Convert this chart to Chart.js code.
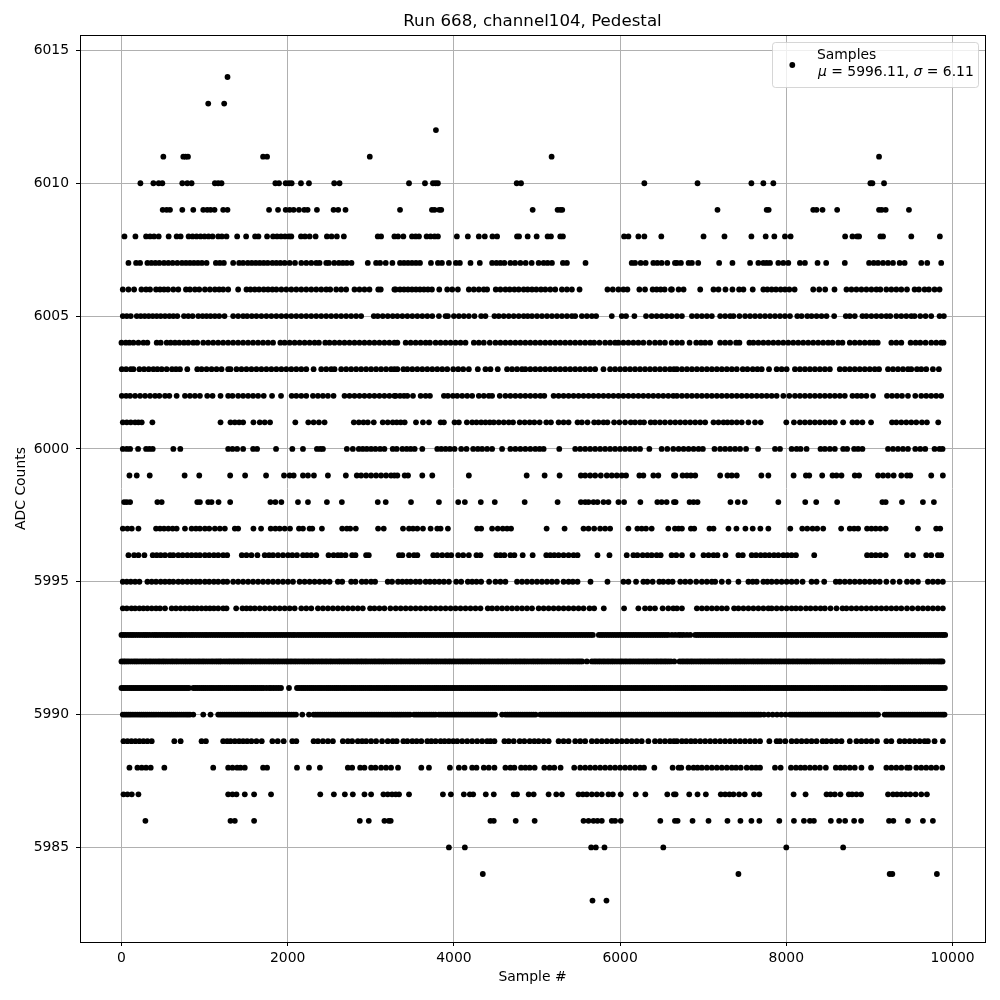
<!DOCTYPE html>
<html>
<head>
<meta charset="utf-8">
<title>Run 668, channel104, Pedestal</title>
<script src="https://cdn.jsdelivr.net/npm/chart.js@4/dist/chart.umd.min.js"></script>
<style>
  html, body { margin: 0; padding: 0; background: #fff; }
  canvas { display: block; }
</style>
</head>
<body>
<canvas id="pedestal" width="1000" height="1000"></canvas>
<script>
const chartTitle = "Run 668, channel104, Pedestal"
const xLabel = "Sample #"
const yLabel = "ADC Counts"
const seriesName = "Samples"
const meanText = " = 5996.11, "
const sigmaText = " = 6.11"
const xTicks = [0, 2000, 4000, 6000, 8000, 10000]
const yTicks = [5985, 5990, 5995, 6000, 6005, 6010, 6015]

// sample numbers seen at each ADC level
const adc6014 = [1276]
const adc6013 = [1044, 1236]
const adc6012 = [3784]
const adc6011 = [504, 744, 772, 800, 1704, 1752, 2988, 5176, 9116]
const adc6010 = [228, 384, 448, 492, 732, 792, 844, 1124, 1164, 1204, 1852, 1896, 1976, 2016, 2048, 2160, 2256, 2560, 2624, 3460, 3652, 3748, 3780, 3808, 4756, 4808, 6292, 6932, 7580, 7724, 7844, 9012, 9036, 9176]
const adc6009 = [496, 544, 584, 732, 864, 984, 1032, 1072, 1120, 1224, 1276, 1776, 1884, 1976, 2024, 2072, 2136, 2200, 2240, 2352, 2552, 2608, 2696, 3352, 3736, 3768, 3824, 3848, 4948, 5248, 5280, 5304, 7172, 7764, 7788, 8324, 8364, 8436, 8612, 9116, 9148, 9196, 9476]
const adc6008 = [36, 168, 296, 344, 392, 448, 568, 664, 712, 808, 856, 904, 952, 1000, 1048, 1096, 1164, 1208, 1264, 1392, 1500, 1608, 1648, 1752, 1824, 1872, 1920, 1968, 2016, 2044, 2160, 2208, 2264, 2336, 2472, 2528, 2592, 2676, 3084, 3124, 3284, 3328, 3392, 3496, 3540, 3580, 3672, 3720, 3768, 3808, 4036, 4168, 4300, 4372, 4464, 4520, 4760, 4784, 4888, 4996, 5128, 5168, 5280, 5312, 6048, 6100, 6220, 6292, 6496, 7004, 7256, 7580, 7752, 7856, 7984, 8052, 8708, 8796, 8852, 8876, 9132, 9164, 9504, 9848]
const adc6007 = [84, 176, 224, 312, 360, 408, 456, 512, 564, 616, 672, 728, 776, 824, 872, 920, 968, 1024, 1136, 1184, 1232, 1344, 1416, 1464, 1520, 1568, 1616, 1664, 1712, 1760, 1816, 1864, 1912, 1964, 2024, 2088, 2164, 2224, 2284, 2344, 2384, 2464, 2496, 2560, 2616, 2664, 2712, 2768, 2964, 3064, 3112, 3180, 3260, 3352, 3400, 3448, 3496, 3544, 3592, 3724, 3808, 3856, 3940, 4024, 4072, 4200, 4312, 4460, 4512, 4560, 4608, 4680, 4736, 4800, 4864, 4936, 5020, 5080, 5128, 5180, 5312, 5360, 5584, 6140, 6180, 6248, 6308, 6400, 6448, 6500, 6568, 6660, 6684, 6732, 6824, 6864, 6940, 7192, 7352, 7564, 7664, 7724, 7764, 7804, 7904, 7964, 8024, 8164, 8224, 8376, 8480, 8704, 8996, 9052, 9104, 9164, 9224, 9284, 9364, 9424, 9624, 9696, 9864]
const adc6006 = [16, 84, 152, 240, 296, 344, 416, 464, 512, 560, 624, 684, 776, 824, 884, 936, 1004, 1064, 1124, 1176, 1224, 1284, 1404, 1504, 1552, 1604, 1656, 1712, 1764, 1816, 1864, 1924, 1984, 2044, 2104, 2164, 2224, 2284, 2344, 2404, 2464, 2512, 2584, 2644, 2704, 2804, 2864, 2924, 2984, 3090, 3120, 3284, 3300, 3352, 3400, 3448, 3496, 3544, 3592, 3640, 3688, 3736, 3824, 3920, 3980, 4048, 4180, 4240, 4300, 4360, 4400, 4504, 4560, 4620, 4672, 4728, 4780, 4840, 4888, 4940, 4992, 5048, 5100, 5160, 5220, 5300, 5360, 5420, 5512, 5848, 5912, 5980, 6040, 6088, 6232, 6300, 6392, 6440, 6488, 6536, 6612, 6624, 6704, 6764, 6964, 7124, 7184, 7268, 7352, 7432, 7484, 7596, 7724, 7772, 7824, 7876, 7932, 7984, 8036, 8100, 8324, 8396, 8468, 8580, 8724, 8784, 8844, 8904, 8964, 9024, 9084, 9132, 9204, 9264, 9324, 9384, 9452, 9544, 9596, 9664, 9716, 9784, 9844]
const adc6005 = [16, 64, 112, 184, 232, 280, 328, 376, 424, 472, 524, 576, 624, 672, 752, 804, 856, 924, 976, 1024, 1072, 1124, 1176, 1240, 1344, 1404, 1464, 1512, 1568, 1624, 1684, 1744, 1804, 1864, 1924, 1984, 2044, 2104, 2164, 2224, 2284, 2344, 2404, 2464, 2524, 2584, 2644, 2704, 2764, 2824, 2884, 3036, 3084, 3144, 3204, 3264, 3320, 3380, 3440, 3500, 3560, 3620, 3680, 3740, 3820, 3900, 3928, 4000, 4060, 4120, 4180, 4248, 4328, 4380, 4488, 4540, 4600, 4660, 4720, 4780, 4840, 4888, 4940, 5000, 5060, 5120, 5180, 5240, 5300, 5360, 5420, 5460, 5540, 5600, 5660, 5712, 5900, 6020, 6072, 6172, 6312, 6380, 6440, 6500, 6560, 6620, 6684, 6744, 6864, 6924, 6984, 7044, 7104, 7204, 7264, 7324, 7364, 7436, 7504, 7564, 7624, 7684, 7744, 7804, 7864, 7924, 7984, 8044, 8132, 8184, 8252, 8304, 8364, 8424, 8484, 8576, 8716, 8764, 8824, 8916, 8964, 9024, 9084, 9144, 9204, 9252, 9324, 9384, 9444, 9504, 9544, 9612, 9676, 9744, 9844, 9896]
const adc6004 = [0, 52, 96, 144, 204, 264, 312, 424, 472, 544, 592, 644, 696, 752, 804, 864, 912, 984, 1044, 1104, 1164, 1224, 1284, 1344, 1404, 1464, 1524, 1584, 1644, 1704, 1764, 1824, 1912, 1964, 2024, 2084, 2144, 2204, 2264, 2324, 2376, 2452, 2504, 2564, 2624, 2684, 2744, 2804, 2864, 2924, 2984, 3044, 3104, 3164, 3224, 3284, 3320, 3420, 3480, 3540, 3600, 3660, 3712, 3780, 3840, 3900, 3960, 4020, 4080, 4140, 4240, 4300, 4360, 4432, 4500, 4560, 4620, 4680, 4740, 4800, 4860, 4920, 4980, 5040, 5100, 5160, 5220, 5280, 5340, 5400, 5460, 5520, 5580, 5640, 5688, 5752, 5820, 5880, 5940, 5980, 6040, 6100, 6160, 6220, 6280, 6352, 6420, 6480, 6540, 6620, 6684, 6744, 6836, 6916, 6972, 7024, 7084, 7204, 7264, 7324, 7396, 7436, 7556, 7604, 7664, 7724, 7784, 7844, 7904, 7964, 8024, 8084, 8144, 8204, 8264, 8324, 8384, 8444, 8504, 8556, 8624, 8676, 8764, 8824, 8884, 8944, 9004, 9052, 9100, 9264, 9324, 9384, 9496, 9556, 9612, 9676, 9744, 9804, 9864, 9892]
const adc6003 = [4, 56, 112, 144, 216, 272, 328, 384, 432, 484, 544, 608, 656, 704, 792, 912, 964, 1024, 1084, 1144, 1204, 1284, 1312, 1384, 1444, 1504, 1564, 1624, 1684, 1744, 1804, 1864, 1924, 1984, 2044, 2104, 2164, 2224, 2312, 2404, 2464, 2524, 2564, 2644, 2704, 2764, 2824, 2884, 2944, 3004, 3064, 3124, 3184, 3244, 3284, 3320, 3392, 3440, 3500, 3560, 3620, 3680, 3740, 3800, 3860, 3920, 3992, 4052, 4112, 4180, 4288, 4380, 4440, 4528, 4640, 4700, 4760, 4820, 4860, 4920, 4980, 5040, 5100, 5160, 5220, 5280, 5340, 5400, 5460, 5520, 5580, 5640, 5700, 5800, 5880, 5940, 6000, 6060, 6120, 6180, 6240, 6300, 6360, 6420, 6480, 6540, 6600, 6648, 6684, 6744, 6804, 6864, 6924, 6984, 7044, 7104, 7164, 7224, 7284, 7344, 7404, 7476, 7532, 7596, 7652, 7704, 7792, 7884, 7944, 8004, 8104, 8164, 8224, 8284, 8344, 8404, 8464, 8524, 8644, 8704, 8764, 8824, 8884, 8944, 9004, 9064, 9116, 9224, 9284, 9344, 9404, 9464, 9504, 9572, 9624, 9684, 9764, 9836]
const adc6002 = [4, 56, 104, 164, 224, 284, 344, 404, 456, 524, 576, 664, 764, 824, 884, 944, 1032, 1096, 1192, 1284, 1336, 1404, 1464, 1524, 1584, 1644, 1712, 1812, 1920, 2048, 2104, 2164, 2224, 2304, 2364, 2424, 2484, 2552, 2684, 2744, 2804, 2864, 2924, 2984, 3044, 3104, 3164, 3224, 3284, 3300, 3352, 3400, 3440, 3508, 3600, 3660, 3712, 3880, 3928, 3988, 4040, 4100, 4160, 4220, 4300, 4360, 4420, 4460, 4552, 4620, 4680, 4740, 4800, 4860, 4920, 4980, 5040, 5088, 5200, 5260, 5320, 5380, 5440, 5500, 5560, 5620, 5680, 5740, 5800, 5860, 5920, 5980, 6040, 6100, 6160, 6220, 6280, 6340, 6400, 6460, 6520, 6580, 6640, 6684, 6744, 6804, 6864, 6924, 6984, 7044, 7104, 7164, 7224, 7284, 7344, 7404, 7464, 7524, 7584, 7644, 7704, 7764, 7824, 7884, 7964, 8036, 8104, 8164, 8224, 8284, 8344, 8404, 8464, 8524, 8584, 8644, 8704, 8796, 8852, 8904, 8964, 9044, 9212, 9272, 9332, 9392, 9464, 9552, 9624, 9684, 9744, 9804, 9864]
const adc6001 = [16, 64, 112, 164, 204, 244, 372, 1192, 1312, 1364, 1416, 1464, 1588, 1664, 1724, 1788, 2092, 2248, 2312, 2376, 2444, 2796, 2856, 2912, 2964, 3036, 3144, 3204, 3264, 3312, 3360, 3408, 3544, 3628, 3700, 3840, 3880, 4008, 4060, 4156, 4220, 4272, 4328, 4380, 4432, 4480, 4540, 4600, 4660, 4712, 4792, 4852, 4912, 4968, 5032, 5112, 5168, 5260, 5320, 5380, 5488, 5540, 5608, 5688, 5740, 5800, 5848, 5928, 5992, 6060, 6128, 6180, 6240, 6288, 6368, 6420, 6480, 6540, 6604, 6664, 6724, 6784, 6844, 6904, 6964, 7024, 7124, 7184, 7244, 7292, 7344, 7404, 7464, 7544, 7624, 7692, 8000, 8092, 8164, 8224, 8284, 8344, 8404, 8464, 8524, 8584, 8684, 8796, 8852, 8916, 9020, 9272, 9324, 9384, 9444, 9504, 9564, 9632, 9692, 9828]
const adc6000 = [16, 64, 104, 200, 296, 336, 376, 624, 708, 1284, 1336, 1392, 1464, 1584, 1632, 1860, 2056, 2184, 2352, 2392, 2424, 2712, 2784, 2856, 2904, 2952, 3004, 3056, 3112, 3164, 3264, 3312, 3380, 3432, 3480, 3528, 3620, 3800, 3848, 3900, 3952, 4008, 4088, 4152, 4232, 4288, 4340, 4400, 4460, 4580, 4680, 4740, 4800, 4860, 4920, 4980, 5032, 5080, 5268, 5460, 5520, 5580, 5640, 5700, 5760, 5820, 5880, 5940, 6000, 6060, 6120, 6180, 6240, 6352, 6500, 6568, 6640, 6704, 6764, 6824, 6884, 6944, 6996, 7136, 7204, 7264, 7324, 7384, 7444, 7516, 7660, 7864, 7924, 8064, 8124, 8172, 8244, 8412, 8464, 8524, 8584, 8684, 8732, 8816, 8864, 8916, 9224, 9284, 9344, 9404, 9464, 9552, 9612, 9672, 9784, 9844, 9880]
const adc5999 = [96, 184, 340, 760, 936, 1308, 1488, 1740, 1956, 2024, 2072, 2184, 2244, 2316, 2484, 2700, 2832, 2884, 2944, 3004, 3064, 3124, 3184, 3244, 3284, 3320, 3408, 3448, 3620, 3740, 4180, 4876, 5092, 5272, 5528, 5580, 5640, 5700, 5768, 5840, 5900, 5960, 6020, 6072, 6232, 6280, 6400, 6460, 6648, 6664, 6752, 6804, 6852, 6904, 7204, 7292, 7344, 7404, 7700, 7784, 8088, 8236, 8276, 8432, 8556, 8604, 8664, 8824, 8876, 9104, 9164, 9224, 9292, 9384, 9452, 9492, 9744, 9884]
const adc5998 = [32, 64, 104, 432, 484, 912, 944, 1044, 1084, 1168, 1308, 1792, 1852, 1924, 2124, 2244, 2472, 2652, 3084, 3180, 3484, 3820, 4052, 4132, 4324, 4492, 4852, 5248, 5528, 5580, 5620, 5680, 5728, 5800, 5860, 5980, 6048, 6244, 6448, 6500, 6560, 6648, 6668, 6836, 6884, 6932, 7328, 7416, 7500, 7904, 8228, 8360, 8612, 9156, 9196, 9392, 9644, 9776]
const adc5997 = [16, 72, 124, 204, 416, 464, 512, 564, 616, 664, 764, 844, 896, 944, 1004, 1056, 1124, 1184, 1244, 1364, 1404, 1588, 1680, 1796, 1852, 1904, 1964, 2028, 2136, 2184, 2264, 2296, 2412, 2656, 2712, 2752, 2820, 3088, 3156, 3388, 3460, 3508, 3560, 3628, 3720, 3800, 3840, 3928, 4280, 4328, 4460, 4528, 4588, 4640, 4688, 5116, 5332, 5560, 5620, 5688, 5760, 5820, 5880, 6100, 6208, 6260, 6312, 6380, 6580, 6660, 6704, 6744, 6852, 6892, 7076, 7124, 7304, 7400, 7508, 7596, 7688, 7784, 8048, 8192, 8252, 8316, 8372, 8444, 8660, 8764, 8816, 8864, 8972, 9024, 9076, 9132, 9196, 9584, 9804, 9852]
const adc5996 = [84, 152, 204, 276, 376, 424, 472, 524, 584, 624, 684, 736, 792, 844, 896, 944, 1004, 1056, 1112, 1164, 1224, 1272, 1448, 1504, 1564, 1636, 1724, 1776, 1824, 1884, 1944, 2004, 2056, 2112, 2184, 2232, 2284, 2344, 2492, 2552, 2604, 2644, 2696, 2776, 2816, 2944, 2976, 3340, 3380, 3460, 3520, 3560, 3752, 3800, 3860, 3920, 3968, 4052, 4112, 4180, 4272, 4320, 4512, 4560, 4608, 4680, 4728, 4828, 4948, 5112, 5160, 5208, 5260, 5320, 5380, 5440, 5488, 5728, 5872, 6080, 6160, 6208, 6272, 6328, 6380, 6440, 6488, 6620, 6676, 6744, 6872, 7004, 7064, 7124, 7172, 7268, 7424, 7476, 7584, 7636, 7692, 7744, 7796, 7852, 7904, 7964, 8012, 8064, 8116, 8336, 8972, 9024, 9076, 9132, 9196, 9452, 9524, 9684, 9744, 9824, 9864]
const adc5995 = [16, 64, 112, 164, 216, 312, 364, 416, 472, 524, 576, 624, 684, 736, 792, 844, 896, 944, 1004, 1056, 1112, 1164, 1224, 1272, 1344, 1404, 1464, 1524, 1584, 1644, 1704, 1764, 1824, 1884, 1944, 2004, 2064, 2144, 2204, 2264, 2324, 2384, 2444, 2504, 2604, 2656, 2764, 2816, 2892, 2944, 3004, 3052, 3204, 3256, 3328, 3380, 3432, 3480, 3540, 3592, 3660, 3712, 3768, 3824, 3880, 3940, 4028, 4088, 4168, 4220, 4272, 4328, 4424, 4500, 4560, 4620, 4760, 4820, 4880, 4940, 5000, 5060, 5120, 5180, 5240, 5320, 5380, 5432, 5488, 5644, 5848, 6040, 6100, 6192, 6280, 6328, 6392, 6472, 6520, 6580, 6632, 6724, 6784, 6844, 6916, 6984, 7044, 7104, 7144, 7224, 7304, 7424, 7544, 7596, 7644, 7724, 7772, 7824, 7884, 7944, 8004, 8064, 8124, 8196, 8304, 8364, 8456, 8596, 8644, 8704, 8764, 8824, 8884, 8944, 9004, 9064, 9124, 9204, 9284, 9364, 9452, 9516, 9584, 9704, 9764, 9824, 9884]
const adc5994 = [16, 64, 120, 164, 216, 264, 312, 364, 416, 464, 524, 604, 656, 712, 764, 816, 864, 912, 964, 1016, 1064, 1112, 1164, 1224, 1264, 1380, 1456, 1504, 1552, 1604, 1664, 1724, 1784, 1844, 1904, 1964, 2024, 2084, 2164, 2224, 2284, 2364, 2424, 2484, 2544, 2604, 2664, 2724, 2784, 2844, 2904, 2992, 3044, 3104, 3164, 3236, 3300, 3360, 3420, 3480, 3540, 3600, 3660, 3720, 3780, 3840, 3900, 3960, 4020, 4080, 4140, 4200, 4260, 4320, 4408, 4460, 4520, 4580, 4640, 4700, 4760, 4820, 4880, 4940, 5020, 5080, 5140, 5200, 5260, 5320, 5380, 5440, 5500, 5560, 5632, 5688, 5804, 6048, 6220, 6300, 6360, 6420, 6512, 6580, 6640, 6684, 6744, 6924, 6984, 7044, 7104, 7164, 7224, 7284, 7372, 7424, 7484, 7544, 7604, 7664, 7724, 7784, 7824, 7884, 7944, 8004, 8064, 8116, 8172, 8236, 8292, 8352, 8412, 8464, 8532, 8604, 8676, 8724, 8784, 8844, 8904, 8964, 9024, 9084, 9144, 9204, 9264, 9324, 9384, 9452, 9516, 9584, 9644, 9704, 9764, 9824, 9884]
const adc5993 = [0, 24, 48, 76, 104, 128, 152, 180, 208, 236, 264, 288, 312, 340, 372, 400, 424, 452, 480, 508, 536, 560, 588, 616, 644, 672, 700, 724, 752, 780, 812, 840, 864, 892, 920, 948, 976, 1004, 1028, 1056, 1084, 1112, 1140, 1168, 1196, 1224, 1252, 1280, 1308, 1336, 1364, 1392, 1420, 1448, 1472, 1504, 1532, 1560, 1588, 1616, 1644, 1672, 1700, 1728, 1756, 1784, 1812, 1840, 1868, 1896, 1924, 1952, 1980, 2008, 2036, 2064, 2088, 2120, 2148, 2176, 2204, 2232, 2260, 2288, 2316, 2344, 2372, 2400, 2428, 2456, 2484, 2512, 2540, 2568, 2596, 2624, 2652, 2680, 2708, 2736, 2764, 2792, 2820, 2848, 2876, 2904, 2932, 2960, 2988, 3016, 3044, 3072, 3100, 3128, 3156, 3184, 3212, 3240, 3268, 3296, 3324, 3352, 3380, 3408, 3432, 3464, 3492, 3520, 3548, 3576, 3604, 3632, 3660, 3688, 3716, 3744, 3772, 3800, 3828, 3856, 3884, 3912, 3940, 3968, 3996, 4024, 4052, 4080, 4108, 4136, 4164, 4192, 4220, 4248, 4276, 4304, 4332, 4360, 4388, 4416, 4444, 4472, 4500, 4528, 4556, 4584, 4612, 4640, 4668, 4696, 4724, 4752, 4780, 4808, 4836, 4864, 4892, 4920, 4948, 4976, 5004, 5032, 5060, 5088, 5116, 5144, 5172, 5200, 5228, 5256, 5284, 5312, 5340, 5368, 5396, 5424, 5452, 5480, 5508, 5536, 5564, 5592, 5620, 5648, 5672, 5744, 5770, 5796, 5824, 5852, 5880, 5908, 5936, 5964, 5992, 6020, 6048, 6076, 6104, 6132, 6160, 6188, 6216, 6244, 6272, 6300, 6328, 6356, 6384, 6412, 6440, 6468, 6496, 6524, 6552, 6580, 6624, 6664, 6704, 6732, 6764, 6804, 6844, 6904, 6930, 6956, 6984, 7012, 7040, 7068, 7096, 7124, 7152, 7180, 7208, 7236, 7264, 7292, 7320, 7348, 7376, 7404, 7432, 7460, 7488, 7516, 7544, 7572, 7600, 7628, 7656, 7684, 7712, 7740, 7768, 7796, 7824, 7852, 7880, 7908, 7936, 7964, 7992, 8020, 8048, 8076, 8104, 8132, 8160, 8188, 8216, 8244, 8272, 8300, 8328, 8356, 8384, 8412, 8440, 8468, 8496, 8524, 8552, 8580, 8608, 8636, 8664, 8692, 8720, 8748, 8776, 8804, 8832, 8860, 8888, 8916, 8944, 8972, 9000, 9028, 9056, 9084, 9112, 9140, 9168, 9196, 9224, 9252, 9280, 9308, 9336, 9364, 9392, 9420, 9448, 9476, 9504, 9532, 9560, 9588, 9616, 9644, 9672, 9700, 9728, 9756, 9784, 9812, 9840, 9868, 9890, 9912]
const adc5992 = [0, 24, 44, 68, 92, 120, 148, 172, 196, 224, 252, 280, 304, 332, 356, 384, 412, 440, 464, 492, 516, 544, 572, 600, 624, 652, 676, 704, 732, 760, 784, 812, 836, 864, 892, 920, 944, 972, 996, 1024, 1052, 1080, 1104, 1132, 1156, 1180, 1200, 1232, 1260, 1288, 1312, 1340, 1364, 1392, 1416, 1444, 1468, 1496, 1524, 1552, 1576, 1604, 1628, 1656, 1680, 1708, 1736, 1764, 1788, 1816, 1840, 1868, 1892, 1920, 1948, 1976, 2000, 2028, 2052, 2080, 2104, 2132, 2160, 2188, 2212, 2240, 2264, 2292, 2316, 2344, 2372, 2400, 2424, 2452, 2476, 2504, 2528, 2556, 2584, 2612, 2636, 2664, 2688, 2716, 2740, 2768, 2796, 2824, 2848, 2876, 2900, 2928, 2952, 2980, 3008, 3036, 3060, 3088, 3112, 3140, 3164, 3192, 3220, 3248, 3272, 3300, 3324, 3352, 3376, 3404, 3432, 3460, 3484, 3512, 3536, 3564, 3588, 3616, 3644, 3672, 3696, 3724, 3748, 3776, 3800, 3828, 3856, 3884, 3908, 3936, 3960, 3988, 4012, 4040, 4068, 4096, 4120, 4148, 4172, 4200, 4224, 4252, 4280, 4308, 4332, 4360, 4384, 4412, 4436, 4464, 4492, 4520, 4544, 4572, 4596, 4624, 4648, 4676, 4704, 4732, 4756, 4784, 4808, 4836, 4860, 4888, 4916, 4944, 4968, 4996, 5020, 5048, 5072, 5100, 5128, 5156, 5180, 5208, 5232, 5260, 5284, 5312, 5340, 5368, 5392, 5420, 5444, 5472, 5496, 5520, 5544, 5600, 5660, 5688, 5712, 5740, 5764, 5792, 5816, 5844, 5868, 5896, 5920, 5948, 5976, 6004, 6028, 6056, 6080, 6108, 6132, 6160, 6188, 6216, 6240, 6268, 6292, 6320, 6344, 6372, 6400, 6428, 6452, 6480, 6504, 6532, 6556, 6584, 6612, 6652, 6716, 6744, 6768, 6796, 6820, 6848, 6872, 6900, 6928, 6956, 6980, 7008, 7032, 7060, 7084, 7112, 7140, 7168, 7192, 7220, 7244, 7272, 7296, 7324, 7352, 7380, 7404, 7432, 7456, 7484, 7508, 7536, 7564, 7592, 7616, 7644, 7668, 7696, 7720, 7748, 7776, 7804, 7828, 7856, 7880, 7908, 7932, 7960, 7988, 8016, 8040, 8068, 8092, 8120, 8144, 8172, 8200, 8228, 8252, 8280, 8304, 8332, 8356, 8384, 8412, 8440, 8464, 8492, 8516, 8544, 8568, 8596, 8624, 8652, 8676, 8704, 8728, 8756, 8780, 8808, 8836, 8864, 8888, 8916, 8940, 8968, 8992, 9020, 9048, 9076, 9100, 9128, 9152, 9180, 9204, 9232, 9260, 9288, 9312, 9340, 9364, 9392, 9416, 9444, 9472, 9500, 9524, 9552, 9576, 9604, 9628, 9656, 9684, 9712, 9736, 9764, 9788, 9816, 9840, 9860, 9880]
const adc5991 = [0, 22, 44, 68, 92, 116, 140, 164, 188, 212, 236, 260, 284, 308, 332, 356, 380, 404, 428, 452, 476, 500, 524, 548, 572, 596, 620, 644, 668, 692, 716, 740, 764, 788, 812, 864, 888, 912, 938, 964, 988, 1012, 1038, 1064, 1088, 1112, 1138, 1164, 1188, 1212, 1238, 1264, 1288, 1312, 1338, 1364, 1388, 1412, 1438, 1464, 1488, 1512, 1538, 1564, 1588, 1612, 1638, 1664, 1688, 1712, 1744, 1776, 1800, 1830, 1860, 1890, 1920, 2016, 2112, 2138, 2164, 2188, 2212, 2238, 2264, 2288, 2312, 2338, 2364, 2388, 2412, 2438, 2464, 2488, 2512, 2538, 2564, 2588, 2612, 2638, 2664, 2688, 2712, 2738, 2764, 2788, 2812, 2838, 2864, 2888, 2912, 2938, 2964, 2988, 3012, 3038, 3064, 3088, 3112, 3138, 3164, 3188, 3212, 3238, 3264, 3288, 3312, 3338, 3364, 3388, 3412, 3438, 3464, 3488, 3512, 3538, 3564, 3588, 3612, 3638, 3664, 3688, 3712, 3738, 3764, 3788, 3812, 3838, 3864, 3888, 3912, 3938, 3964, 3988, 4012, 4038, 4064, 4088, 4112, 4138, 4164, 4188, 4212, 4238, 4264, 4288, 4312, 4338, 4364, 4388, 4412, 4438, 4464, 4488, 4512, 4538, 4564, 4588, 4612, 4638, 4664, 4688, 4712, 4738, 4764, 4788, 4812, 4838, 4864, 4888, 4912, 4938, 4964, 4988, 5012, 5038, 5064, 5088, 5112, 5138, 5164, 5188, 5212, 5238, 5264, 5288, 5312, 5338, 5364, 5388, 5412, 5438, 5464, 5488, 5512, 5538, 5564, 5588, 5612, 5638, 5664, 5688, 5712, 5738, 5764, 5788, 5812, 5838, 5864, 5888, 5912, 5938, 5964, 5988, 6012, 6038, 6064, 6088, 6112, 6138, 6164, 6188, 6212, 6238, 6264, 6288, 6312, 6338, 6364, 6388, 6412, 6438, 6464, 6488, 6512, 6538, 6564, 6588, 6612, 6638, 6664, 6688, 6712, 6738, 6764, 6788, 6812, 6838, 6864, 6888, 6912, 6938, 6964, 6988, 7012, 7038, 7064, 7088, 7112, 7138, 7164, 7188, 7212, 7238, 7264, 7288, 7312, 7338, 7364, 7388, 7412, 7438, 7464, 7488, 7512, 7538, 7564, 7588, 7612, 7638, 7664, 7688, 7712, 7738, 7764, 7788, 7812, 7838, 7864, 7888, 7912, 7938, 7964, 7988, 8012, 8038, 8064, 8088, 8112, 8138, 8164, 8188, 8212, 8238, 8264, 8288, 8312, 8338, 8364, 8388, 8412, 8438, 8464, 8488, 8512, 8538, 8564, 8588, 8612, 8638, 8664, 8688, 8712, 8738, 8764, 8788, 8812, 8838, 8864, 8888, 8912, 8938, 8964, 8988, 9012, 9038, 9064, 9090, 9118, 9150, 9178, 9204, 9230, 9256, 9282, 9308, 9334, 9360, 9386, 9412, 9438, 9464, 9490, 9516, 9542, 9568, 9594, 9620, 9646, 9672, 9698, 9724, 9750, 9776, 9802, 9828, 9854, 9880, 9908]
const adc5990 = [16, 40, 64, 88, 112, 138, 164, 190, 216, 240, 264, 288, 312, 338, 364, 390, 416, 444, 472, 498, 524, 550, 576, 600, 624, 648, 672, 698, 724, 750, 776, 800, 824, 864, 984, 1072, 1164, 1190, 1216, 1242, 1268, 1294, 1320, 1346, 1372, 1398, 1424, 1450, 1476, 1502, 1528, 1554, 1580, 1606, 1632, 1658, 1684, 1710, 1736, 1762, 1788, 1814, 1840, 1866, 1892, 1918, 1944, 1970, 1996, 2022, 2048, 2074, 2100, 2176, 2256, 2312, 2338, 2364, 2390, 2416, 2442, 2468, 2494, 2520, 2546, 2572, 2598, 2624, 2650, 2676, 2702, 2728, 2754, 2780, 2806, 2832, 2858, 2884, 2910, 2936, 2962, 2988, 3014, 3040, 3066, 3092, 3118, 3144, 3170, 3196, 3222, 3248, 3272, 3296, 3320, 3344, 3368, 3394, 3420, 3446, 3472, 3520, 3546, 3572, 3598, 3624, 3650, 3676, 3702, 3728, 3754, 3780, 3820, 3846, 3872, 3898, 3924, 3950, 3976, 4002, 4028, 4054, 4080, 4106, 4132, 4158, 4184, 4210, 4236, 4262, 4288, 4314, 4340, 4366, 4392, 4418, 4444, 4470, 4496, 4580, 4620, 4646, 4672, 4698, 4724, 4750, 4776, 4802, 4828, 4854, 4880, 4906, 4932, 4958, 4984, 5040, 5066, 5092, 5118, 5144, 5170, 5196, 5222, 5248, 5274, 5300, 5326, 5352, 5378, 5404, 5430, 5456, 5482, 5508, 5534, 5560, 5586, 5612, 5638, 5664, 5690, 5716, 5742, 5768, 5794, 5820, 5846, 5872, 5898, 5924, 5950, 5976, 6002, 6028, 6054, 6080, 6106, 6132, 6158, 6184, 6210, 6236, 6262, 6288, 6314, 6340, 6366, 6392, 6418, 6444, 6470, 6496, 6522, 6548, 6574, 6600, 6626, 6652, 6678, 6704, 6730, 6756, 6782, 6808, 6834, 6860, 6886, 6912, 6938, 6964, 6990, 7016, 7042, 7068, 7094, 7120, 7146, 7172, 7198, 7224, 7250, 7276, 7302, 7328, 7354, 7380, 7406, 7432, 7458, 7484, 7510, 7536, 7562, 7588, 7614, 7640, 7666, 7692, 7732, 7784, 7836, 7888, 7940, 7992, 8044, 8070, 8096, 8122, 8148, 8174, 8200, 8226, 8252, 8278, 8304, 8330, 8356, 8382, 8408, 8434, 8460, 8486, 8512, 8538, 8564, 8590, 8616, 8642, 8668, 8694, 8720, 8746, 8772, 8798, 8824, 8850, 8876, 8902, 8928, 8954, 8980, 9006, 9032, 9058, 9084, 9104, 9184, 9210, 9236, 9262, 9288, 9314, 9340, 9366, 9392, 9418, 9444, 9470, 9496, 9522, 9548, 9574, 9600, 9626, 9652, 9678, 9704, 9730, 9756, 9782, 9808, 9834, 9860, 9884, 9904]
const adc5989 = [24, 72, 120, 168, 216, 264, 312, 364, 636, 712, 964, 1016, 1224, 1272, 1312, 1364, 1416, 1464, 1512, 1564, 1624, 1688, 1816, 1880, 1952, 2056, 2104, 2312, 2364, 2424, 2484, 2544, 2664, 2724, 2776, 2844, 2896, 2944, 3004, 3064, 3136, 3204, 3264, 3312, 3392, 3440, 3500, 3552, 3608, 3680, 3728, 3780, 3840, 3888, 3940, 3992, 4040, 4100, 4160, 4220, 4280, 4340, 4400, 4440, 4488, 4608, 4660, 4720, 4792, 4848, 4912, 4968, 5020, 5080, 5140, 5260, 5320, 5380, 5460, 5520, 5580, 5660, 5720, 5780, 5840, 5900, 5960, 6020, 6080, 6140, 6200, 6260, 6340, 6420, 6480, 6540, 6600, 6648, 6684, 6744, 6796, 6852, 6904, 6964, 7024, 7084, 7144, 7204, 7264, 7324, 7384, 7444, 7504, 7564, 7624, 7684, 7796, 7884, 7924, 7988, 8064, 8124, 8184, 8244, 8304, 8364, 8436, 8484, 8544, 8604, 8664, 8764, 8844, 8904, 8964, 9024, 9092, 9204, 9264, 9364, 9424, 9484, 9544, 9604, 9664, 9704, 9784, 9884]
const adc5988 = [96, 192, 244, 296, 352, 516, 1104, 1284, 1336, 1392, 1432, 1484, 1704, 1752, 2112, 2256, 2388, 2724, 2776, 2872, 2924, 3004, 3056, 3124, 3184, 3244, 3328, 3608, 3700, 3952, 4060, 4128, 4220, 4272, 4360, 4420, 4488, 4620, 4680, 4728, 4808, 4860, 4912, 4972, 5088, 5152, 5208, 5284, 5448, 5520, 5580, 5640, 5700, 5760, 5820, 5880, 5940, 6000, 6060, 6120, 6180, 6240, 6288, 6412, 6632, 6704, 6736, 6824, 6884, 6932, 6984, 7044, 7104, 7164, 7224, 7284, 7344, 7396, 7452, 7524, 7584, 7636, 7684, 7864, 7932, 8056, 8116, 8172, 8224, 8284, 8344, 8404, 8476, 8596, 8652, 8704, 8764, 8824, 8904, 9020, 9204, 9264, 9324, 9384, 9452, 9484, 9564, 9624, 9684, 9744, 9804, 9876]
const adc5987 = [24, 72, 124, 204, 1284, 1336, 1384, 1484, 1596, 1800, 2392, 2556, 2688, 2784, 2924, 3004, 3152, 3204, 3256, 3300, 3340, 3460, 3868, 3964, 4120, 4192, 4232, 4384, 4480, 4720, 4760, 4900, 4960, 5140, 5232, 5300, 5500, 5552, 5600, 5660, 5720, 5780, 5860, 5912, 6008, 6188, 6304, 6568, 6648, 6668, 6832, 6932, 7032, 7212, 7264, 7316, 7364, 7432, 7500, 7612, 7676, 8088, 8232, 8484, 8532, 8584, 8652, 8752, 8792, 8844, 8900, 9224, 9284, 9332, 9384, 9436, 9492, 9556, 9624, 9692]
const adc5986 = [288, 1312, 1364, 1596, 2868, 2976, 3164, 3216, 3240, 4440, 4480, 4744, 4972, 5560, 5620, 5680, 5728, 5780, 5900, 5940, 6008, 6484, 6660, 6692, 6872, 7064, 7292, 7448, 7580, 7676, 7916, 8092, 8212, 8284, 8332, 8536, 8636, 8708, 8816, 8900, 9236, 9288, 9464, 9644, 9764]
const adc5985 = [3940, 4132, 5652, 5708, 5812, 6520, 8000, 8684]
const adc5984 = [4348, 7424, 9244, 9276, 9812]
const adc5983 = [5668, 5836]

const adcLevels = [6014, 6013, 6012, 6011, 6010, 6009, 6008, 6007, 6006, 6005, 6004, 6003, 6002, 6001, 6000, 5999, 5998, 5997, 5996, 5995, 5994, 5993, 5992, 5991, 5990, 5989, 5988, 5987, 5986, 5985, 5984, 5983]
const levelSamples = [adc6014, adc6013, adc6012, adc6011, adc6010, adc6009, adc6008, adc6007, adc6006, adc6005, adc6004, adc6003, adc6002, adc6001, adc6000, adc5999, adc5998, adc5997, adc5996, adc5995, adc5994, adc5993, adc5992, adc5991, adc5990, adc5989, adc5988, adc5987, adc5986, adc5985, adc5984, adc5983]

const points = []
adcLevels.forEach((level, i) => {
    levelSamples[i].forEach((s) => points.push({ x: s, y: level }))
})

const tickFont = { family: "'DejaVu Sans'", size: 13.9 }

// top and right spines, Chart.js only gives the two axis borders
const frame = {
    id: 'frame',
    afterDatasetsDraw(chart) {
        const a = chart.chartArea
        const c = chart.ctx
        c.save()
        c.strokeStyle = '#000'
        c.lineWidth = 1
        c.strokeRect(Math.round(a.left) + 0.5, Math.round(a.top) + 0.5, Math.round(a.right - a.left), Math.round(a.bottom - a.top))
        c.restore()
    }
}

// legend box with the italic mu and sigma
const statsLegend = {
    id: 'statsLegend',
    afterDraw(chart) {
        const c = chart.ctx
        c.save()
        c.beginPath()
        c.roundRect(772.5, 42.5, 206, 45, 3)
        c.fillStyle = 'rgba(255,255,255,0.8)'
        c.fill()
        c.strokeStyle = 'rgba(204,204,204,0.8)'
        c.lineWidth = 1
        c.stroke()
        c.beginPath()
        c.arc(792.3, 65, 2.9, 0, Math.PI * 2)
        c.fillStyle = '#000'
        c.fill()
        c.textBaseline = 'alphabetic'
        c.textAlign = 'left'
        c.font = "13.9px 'DejaVu Sans'"
        c.fillText(seriesName, 817, 59)
        let x = 818
        const parts = [["\u03bc", true], [meanText, false], ["\u03c3", true], [sigmaText, false]]
        parts.forEach((p) => {
            c.font = (p[1] ? "italic " : "") + "13.9px 'DejaVu Sans'"
            c.fillText(p[0], x, 76)
            x += c.measureText(p[0]).width
        })
        c.restore()
    }
}

new Chart(document.getElementById('pedestal'), {
    type: 'scatter',
    data: {
        datasets: [{
            label: seriesName,
            data: points,
            backgroundColor: '#000',
            borderWidth: 0,
            pointRadius: 2.9,
            pointHoverRadius: 2.9
        }]
    },
    options: {
        responsive: false,
        animation: false,
        layout: { padding: { left: 0, right: 15, top: 0, bottom: 0 } },
        plugins: {
            legend: { display: false },
            tooltip: { enabled: false },
            title: {
                display: true,
                text: chartTitle,
                color: '#000',
                fullSize: false,
                font: { family: "'DejaVu Sans'", size: 16.67, weight: 'normal' },
                padding: { top: 12, bottom: 3 }
            }
        },
        scales: {
            x: {
                type: 'linear',
                min: -499,
                max: 10391,
                afterBuildTicks(scale) { scale.ticks = xTicks.map((v) => ({ value: v })) },
                afterFit(scale) { scale.height = 58 },
                grid: { color: '#b0b0b0', lineWidth: 1, tickColor: '#000', tickLength: 4 },
                border: { color: '#000' },
                ticks: { color: '#000', font: tickFont, maxRotation: 0, autoSkip: false, padding: 4, callback: (v) => String(v) },
                title: { display: true, text: xLabel, color: '#000', font: tickFont, padding: { top: 3, bottom: 14 } }
            },
            y: {
                type: 'linear',
                min: 5981.44,
                max: 6015.58,
                afterBuildTicks(scale) { scale.ticks = yTicks.map((v) => ({ value: v })) },
                afterFit(scale) { scale.width = 80 },
                grid: { color: '#b0b0b0', lineWidth: 1, tickColor: '#000', tickLength: 4 },
                border: { color: '#000' },
                ticks: { color: '#000', font: tickFont, autoSkip: false, padding: 7, callback: (v) => String(v) },
                title: { display: true, text: yLabel, color: '#000', font: tickFont, padding: { top: 13, bottom: 0 } }
            }
        }
    },
    plugins: [frame, statsLegend]
})
</script>
</body>
</html>
